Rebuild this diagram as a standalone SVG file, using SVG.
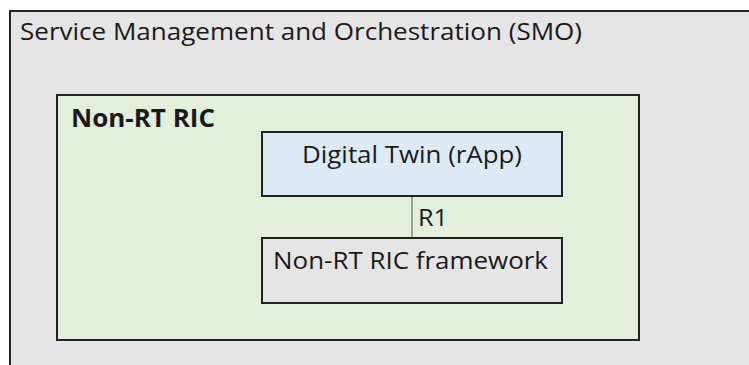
<svg xmlns="http://www.w3.org/2000/svg" width="749" height="365" viewBox="0 0 749 365">
<style>
text{font-family:"Open Sans","DejaVu Sans",sans-serif;fill:#1a1a1a}
.box{stroke:#222;stroke-width:2}
.t{font-size:23.5px}
.b{font-size:25px;font-weight:bold}
.n{font-size:24.5px}
</style>
<rect width="749" height="365" fill="#fff"/>
<g id="smo">
<rect class="box" x="10" y="11" width="800" height="400" fill="#e5e5e5"/>
<text class="t" x="20" y="40" textLength="562" lengthAdjust="spacingAndGlyphs">Service Management and Orchestration (SMO)</text>
</g>
<g id="nonrtric">
<rect class="box" x="57" y="95" width="582" height="245" fill="#e2efda"/>
<text class="b" x="71" y="127" textLength="144" lengthAdjust="spacingAndGlyphs">Non-RT RIC</text>
</g>
<g id="connectors">
<line x1="412" y1="197" x2="412" y2="238" stroke="#555" stroke-width="1"/>
<text class="n" x="418" y="226" textLength="30" lengthAdjust="spacingAndGlyphs">R1</text>
</g>
<g id="digitaltwin">
<rect class="box" x="262" y="132" width="300" height="64" fill="#ddeaf6"/>
<text class="n" x="412" y="163" text-anchor="middle" textLength="220" lengthAdjust="spacingAndGlyphs">Digital Twin (rApp)</text>
</g>
<g id="framework">
<rect class="box" x="262" y="238" width="300" height="65" fill="#e5e5e5"/>
<text class="n" x="410.5" y="269" text-anchor="middle" textLength="275" lengthAdjust="spacingAndGlyphs">Non-RT RIC framework</text>
</g>
</svg>
